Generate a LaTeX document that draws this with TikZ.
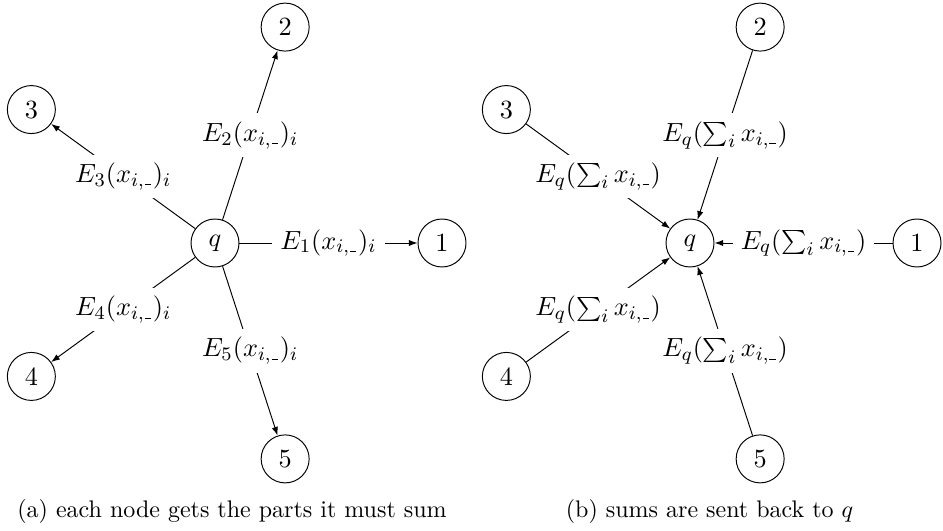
\documentclass[tikz,border=0pt]{standalone}
\usetikzlibrary{arrows.meta}
\newcommand{\ud}{\mbox{\kern0.4pt\vrule width 2.6pt height 0.9pt depth -0.4pt\kern0.3pt}}
\begin{document}
\begin{tikzpicture}[x=0.41667pt,y=0.41667pt,
  big/.style={font=\fontsize{10.95}{13.6}\selectfont},
  vtx/.style={big, draw, circle, minimum size=20pt, inner sep=0pt},
  lbl/.style={big, fill=white, inner sep=3.33pt},
  arr/.style={-{Latex[length=3.6pt,width=2.6pt]}},
  captext/.style={anchor=base, inner sep=0pt}]
\useasboundingbox (0,0) rectangle (943,530);
% (a)
\begin{scope}[shift={(215,287)}]
  \node[vtx] (qa) at (0,0) {$q$};
  \node[vtx] (a1) at (0:227) {1};
  \node[vtx] (a2) at (72:227) {2};
  \node[vtx] (a3) at (144:227) {3};
  \node[vtx] (a4) at (216:227) {4};
  \node[vtx] (a5) at (288:227) {5};
\end{scope}
\draw[arr] (qa) -- node[lbl] {$E_1(x_{i,\ud})_i$} (a1);
\draw[arr] (qa) -- node[lbl] {$E_2(x_{i,\ud})_i$} (a2);
\draw[arr] (qa) -- node[lbl] {$E_3(x_{i,\ud})_i$} (a3);
\draw[arr] (qa) -- node[lbl] {$E_4(x_{i,\ud})_i$} (a4);
\draw[arr] (qa) -- node[lbl] {$E_5(x_{i,\ud})_i$} (a5);
% (b)
\begin{scope}[shift={(690,287)}]
  \node[vtx] (qb) at (0,0) {$q$};
  \node[vtx] (b1) at (0:227) {1};
  \node[vtx] (b2) at (72:227) {2};
  \node[vtx] (b3) at (144:227) {3};
  \node[vtx] (b4) at (216:227) {4};
  \node[vtx] (b5) at (288:227) {5};
\end{scope}
\draw[arr] (b1) -- node[lbl] {$E_q(\sum_i x_{i,\ud})$} (qb);
\draw[arr] (b2) -- node[lbl] {$E_q(\sum_i x_{i,\ud})$} (qb);
\draw[arr] (b3) -- node[lbl] {$E_q(\sum_i x_{i,\ud})$} (qb);
\draw[arr] (b4) -- node[lbl] {$E_q(\sum_i x_{i,\ud})$} (qb);
\draw[arr] (b5) -- node[lbl] {$E_q(\sum_i x_{i,\ud})$} (qb);
% captions
\node[captext] (capa) at (232,13) {(a) each node gets the parts it must sum};
\node[captext] (capb) at (709.5,13) {(b) sums are sent back to $q$};
\end{tikzpicture}
\end{document}
